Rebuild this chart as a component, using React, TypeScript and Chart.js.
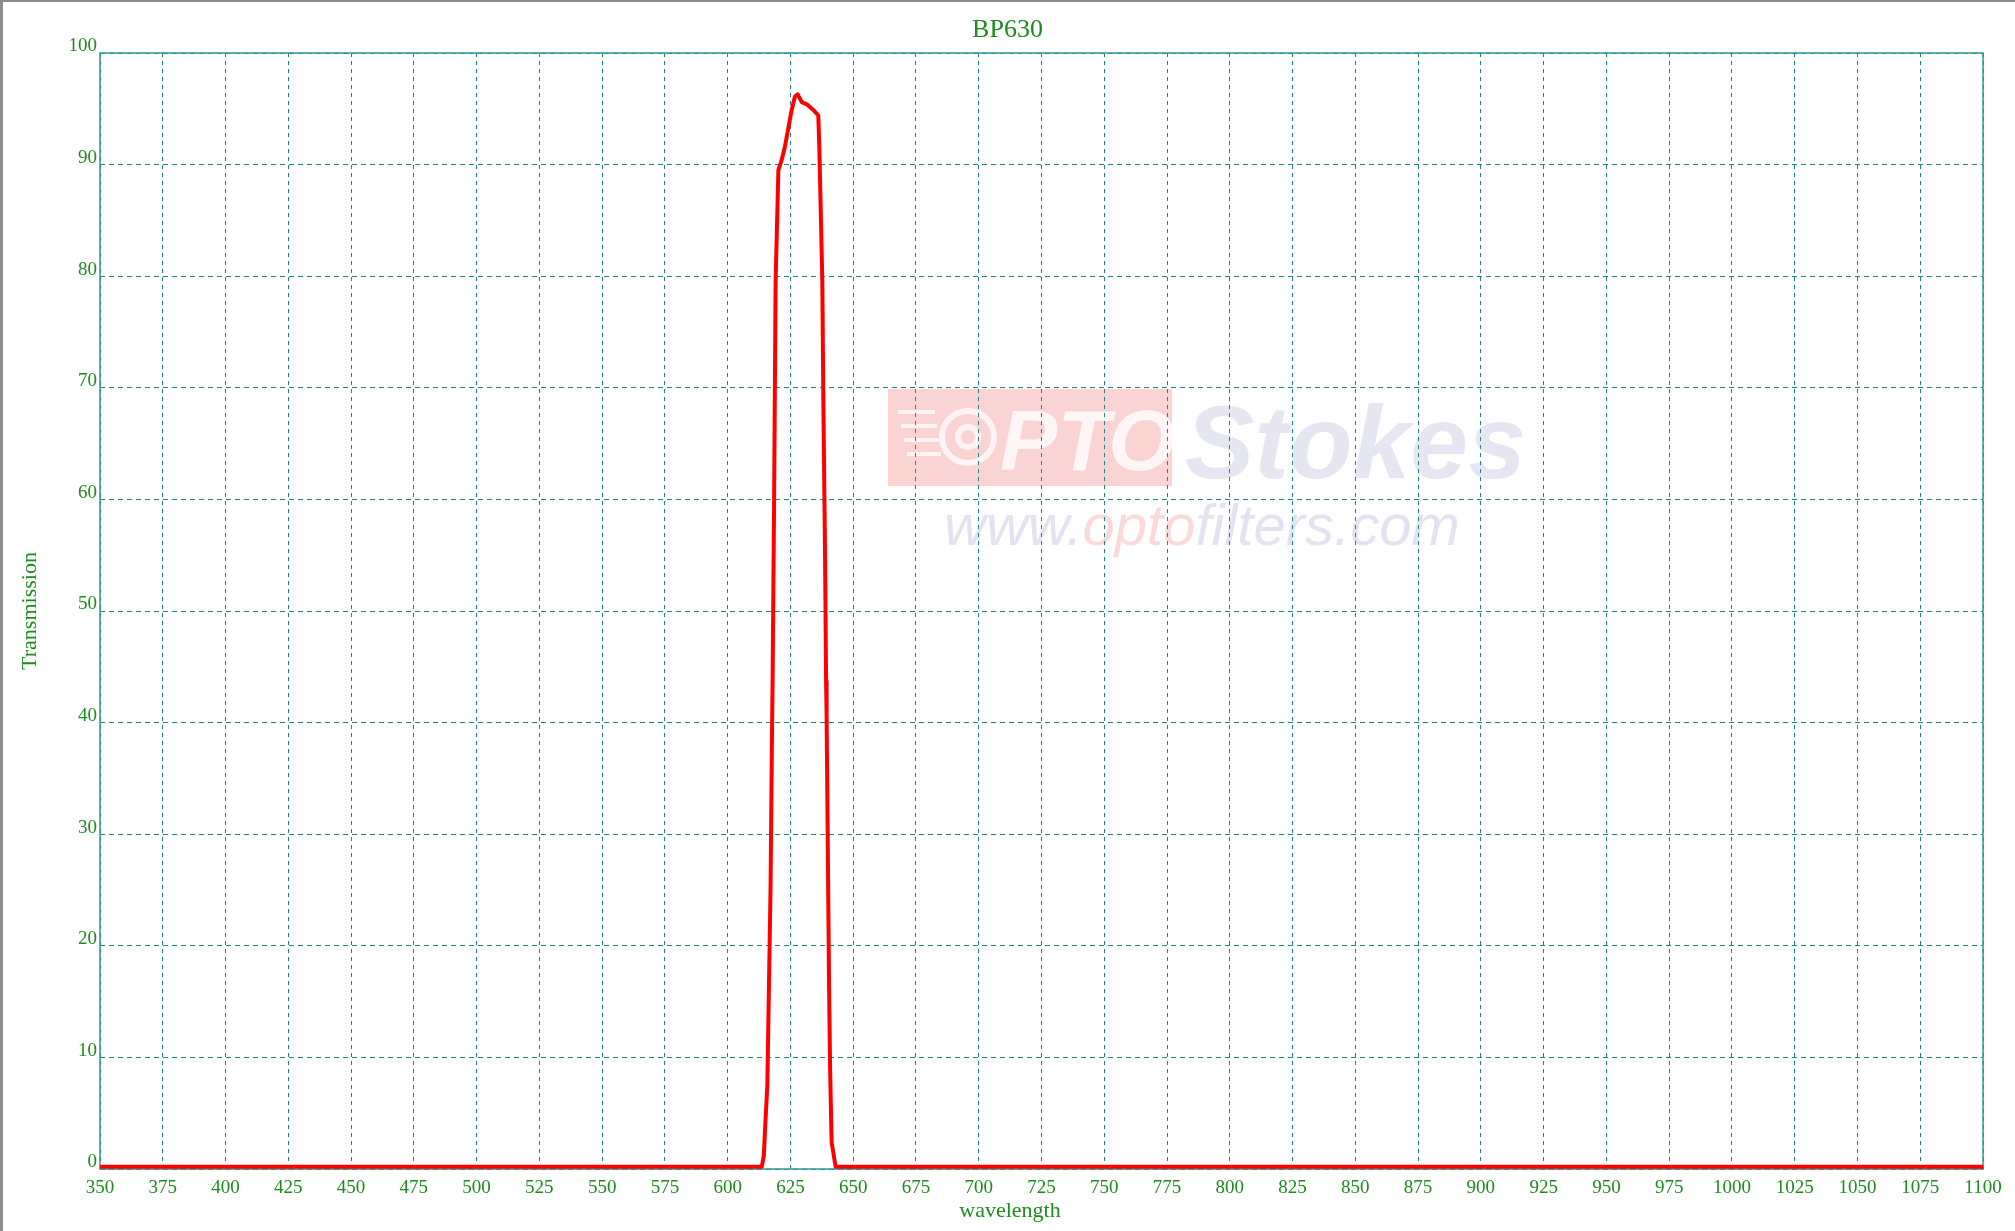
import { useEffect, useRef } from "react";
import { Chart, registerables } from "chart.js";

Chart.register(...registerables);

// ---- data ----
const CHART_TITLE = "BP630";
const X_TITLE = "wavelength";
const Y_TITLE = "Transmission";

const wavelengths = [
  350, 613.6, 614.4, 615.1, 615.8, 617.1, 617.6, 617.9, 618.5, 619.1, 620.2, 621.5,
  622.8, 625.5, 626.8, 627.9, 629.5, 631.5, 634.1, 636.1, 636.5, 636.8, 637.7, 638.1,
  638.8, 639.2, 639.4, 640.4, 640.8, 641.4, 643.0, 1100,
];
const transmission = [
  0.2, 0.2, 1.2, 4.5, 7.5, 25.5, 37.7, 43.7, 60, 79.6, 89.5, 90.4,
  91.6, 94.9, 96.1, 96.3, 95.6, 95.4, 94.9, 94.4, 91.6, 88.6, 79.6, 69.1,
  54.8, 43.7, 40.8, 16.2, 9.0, 2.4, 0.2, 0.2,
];

const xTickValues = [
  350, 375, 400, 425, 450, 475, 500, 525, 550, 575, 600, 625, 650, 675, 700, 725, 750,
  775, 800, 825, 850, 875, 900, 925, 950, 975, 1000, 1025, 1050, 1075, 1100,
];
const yTickValues = [0, 10, 20, 30, 40, 50, 60, 70, 80, 90, 100];

const WATERMARK_URL = ["www.", "opto", "filters.com"];
const WATERMARK_BRAND = ["OPTO", "Stokes"];

const GREEN = "#1f8a1f";
const TEAL = "#1e8585";
const FONT = "'Liberation Serif', 'Times New Roman', serif";

export default function App() {
  const canvasRef = useRef<HTMLCanvasElement | null>(null);

  useEffect(() => {
    const canvas = canvasRef.current;
    if (!canvas) return;

    const watermark = {
      id: "watermark",
      beforeDraw(chart: any) {
        const ctx = chart.ctx as CanvasRenderingContext2D;
        ctx.save();
        // pink box
        ctx.fillStyle = "rgba(240,110,110,0.3)";
        ctx.fillRect(888, 389, 284, 97);
        // logo lines + ring
        ctx.strokeStyle = "rgba(255,255,255,0.75)";
        ctx.lineWidth = 4;
        for (let i = 0; i < 4; i++) {
          ctx.beginPath();
          ctx.moveTo(898 + i * 3, 412 + i * 14);
          ctx.lineTo(935 + i * 2, 412 + i * 14);
          ctx.stroke();
        }
        ctx.lineWidth = 6;
        ctx.beginPath();
        ctx.arc(968, 437, 26, 0, Math.PI * 2);
        ctx.stroke();
        ctx.beginPath();
        ctx.arc(968, 437, 10, 0, Math.PI * 2);
        ctx.stroke();
        ctx.font = "italic bold 86px 'Liberation Sans', Arial, sans-serif";
        ctx.fillStyle = "rgba(255,255,255,0.8)";
        ctx.textBaseline = "alphabetic";
        ctx.fillText(WATERMARK_BRAND[0].slice(1), 1000, 470);
        ctx.font = "italic bold 104px 'Liberation Sans', Arial, sans-serif";
        ctx.fillStyle = "rgba(150,150,205,0.24)";
        ctx.fillText(WATERMARK_BRAND[1], 1185, 478);
        ctx.font = "italic 58px 'Liberation Sans', Arial, sans-serif";
        let x = 944;
        const cols = ["rgba(150,150,205,0.28)", "rgba(240,120,120,0.28)", "rgba(150,150,205,0.28)"];
        WATERMARK_URL.forEach((t, i) => {
          ctx.fillStyle = cols[i];
          ctx.fillText(t, x, 545);
          x += ctx.measureText(t).width;
        });
        ctx.restore();
      },
    };

    const frame = {
      id: "frame",
      beforeDatasetsDraw(chart: any) {
        const { ctx, chartArea } = chart;
        ctx.save();
        ctx.setLineDash([]);
        ctx.strokeStyle = "#2f9898";
        ctx.lineWidth = 1.5;
        ctx.strokeRect(chartArea.left, chartArea.top, chartArea.right - chartArea.left, chartArea.bottom - chartArea.top);
        ctx.restore();
      },
      afterDraw(chart: any) {
        const ctx = chart.ctx as CanvasRenderingContext2D;
        ctx.save();
        ctx.font = `22px ${FONT}`;
        ctx.fillStyle = GREEN;
        ctx.textAlign = "center";
        ctx.textBaseline = "middle";
        ctx.fillText(X_TITLE, 1010, 1211);
        ctx.restore();
      },
    };

    const chart = new Chart(canvas, {
      type: "scatter",
      data: {
        datasets: [
          {
            data: wavelengths.map((w, i) => ({ x: w, y: transmission[i] })),
            showLine: true,
            borderColor: "#ff0000",
            backgroundColor: "#ff0000",
            borderWidth: 4,
            pointRadius: 0,
            tension: 0,
            borderJoinStyle: "round",
          } as any,
        ],
      },
      options: {
        animation: false,
        responsive: false,
        devicePixelRatio: 1,
        layout: { padding: 0 },
        plugins: {
          legend: { display: false },
          tooltip: { enabled: false },
          title: {
            display: true,
            text: CHART_TITLE,
            color: GREEN,
            font: { family: FONT, size: 26, weight: "normal" },
            padding: { top: 14.5, bottom: 7.3 },
          },
        },
        scales: {
          x: {
            type: "linear",
            min: 350,
            max: 1100,
            afterBuildTicks: (s: any) => {
              s.ticks = xTickValues.map((v) => ({ value: v }));
            },
            afterFit: (s: any) => {
              s.height = 62;
            },
            grid: { color: TEAL, lineWidth: 1, drawTicks: false },
            border: { display: false, dash: [4, 4] },
            ticks: {
              color: GREEN,
              font: { family: FONT, size: 19 },
              padding: 7.5,
              autoSkip: false,
              maxRotation: 0,
              callback: (v: any) => String(v),
            },
          },
          y: {
            type: "linear",
            position: "left",
            min: 0,
            max: 100,
            afterBuildTicks: (s: any) => {
              s.ticks = yTickValues.map((v) => ({ value: v }));
            },
            afterFit: (s: any) => {
              s.width = 100;
            },
            grid: { color: TEAL, lineWidth: 1, drawTicks: false },
            border: { display: false, dash: [5, 4] },
            ticks: {
              color: GREEN,
              font: { family: FONT, size: 19 },
              padding: 3,
              labelOffset: -6.5,
              autoSkip: false,
              callback: (v: any) => String(v),
            },
            title: {
              display: true,
              text: Y_TITLE,
              color: GREEN,
              font: { family: FONT, size: 22 },
              padding: { top: 17, bottom: 0 },
            },
          },
          yRight: {
            type: "linear",
            position: "right",
            display: true,
            grid: { display: false, drawTicks: false },
            border: { display: false },
            ticks: { display: false },
            afterFit: (s: any) => {
              s.width = 32;
            },
          },
        },
      },
      plugins: [watermark, frame],
    } as any);

    return () => chart.destroy();
  }, []);

  return (
    <div style={{ position: "absolute", left: 0, top: 0, width: 2015, height: 1231, background: "#fff" }}>
      <canvas ref={canvasRef} width={2015} height={1231} style={{ width: 2015, height: 1231, display: "block" }} />
      <div style={{ position: "absolute", left: 0, top: 0, width: 3, height: 1231, background: "#8c8c8c" }} />
      <div style={{ position: "absolute", left: 0, top: 0, width: 2015, height: 2, background: "#8c8c8c" }} />
    </div>
  );
}
